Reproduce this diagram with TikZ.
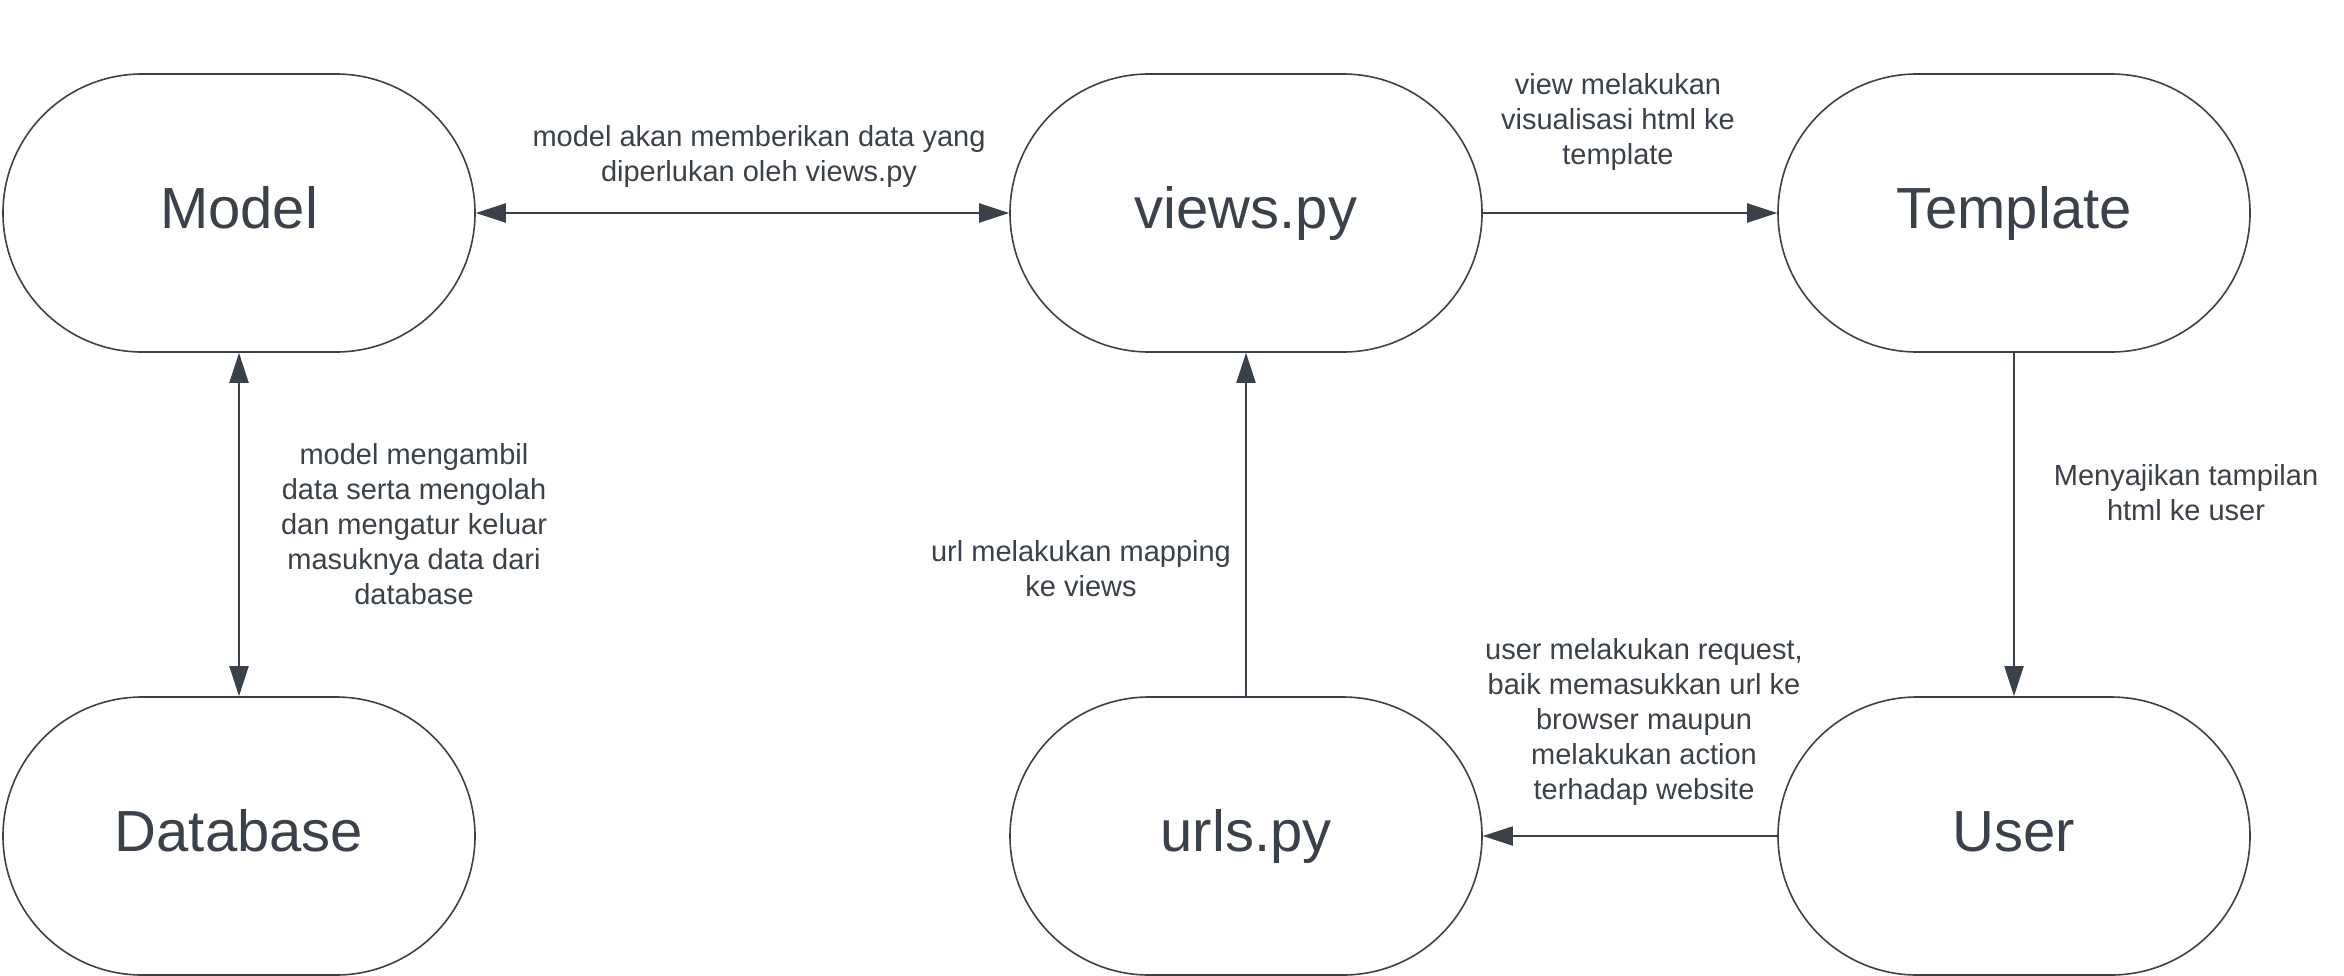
\documentclass[tikz,border=0pt]{standalone}
\usepackage{fontspec}
\setmainfont{Liberation Sans}
\usetikzlibrary{arrows.meta}
\definecolor{ink}{HTML}{3A414A}

\begin{document}
\begin{tikzpicture}[x=0.5pt, y=-0.5pt,
  terminal/.style={draw=ink, line width=0.8pt, rounded corners=69.5pt, minimum width=236pt, minimum height=139pt, text=ink, font=\fontsize{29}{34}\selectfont, text height=21pt, text depth=6pt, inner sep=0pt},
  note/.style={text=ink, align=center, font=\fontsize{14.5}{17.5}\selectfont, inner sep=0pt},
  flow/.style={draw=ink, line width=1pt, -{Triangle[length=15pt,width=9.5pt]}},
  twoway/.style={flow, {Triangle[length=15pt,width=9.5pt]}-{Triangle[length=15pt,width=9.5pt]}}]
  \useasboundingbox (0,0) rectangle (2344,975);

  % top row
  \node[terminal] (model) at (239,213) {Model};
  \node[terminal] (views) at (1246,213) {views.py};
  \node[terminal] (template) at (2014,213) {Template};
  % bottom row
  \node[terminal] (database) at (239,836) {Database};
  \node[terminal] (urls) at (1246,836) {urls.py};
  \node[terminal] (user) at (2014,836) {User};

  % connectors
  \draw[twoway] (model) -- (views);
  \draw[twoway] (model) -- (database);
  \draw[flow] (views) -- (template);
  \draw[flow] (template) -- (user);
  \draw[flow] (user) -- (urls);
  \draw[flow] (urls) -- (views);

  % notes
  \node[note] (n1) at (759,156) {model akan memberikan data yang\\diperlukan oleh views.py};
  \node[note] (n2) at (1618,122) {view melakukan\\visualisasi html ke\\template};
  \node[note] (n3) at (414,524) {model mengambil\\data serta mengolah\\dan mengatur keluar\\masuknya data dari\\database};
  \node[note] (n4) at (2186,493) {Menyajikan tampilan\\html ke user};
  \node[note] (n5) at (1081,569) {url melakukan mapping\\ke views};
  \node[note] (n6) at (1644,722) {user melakukan request,\\baik memasukkan url ke\\browser maupun\\melakukan action\\terhadap website};
\end{tikzpicture}
\end{document}
